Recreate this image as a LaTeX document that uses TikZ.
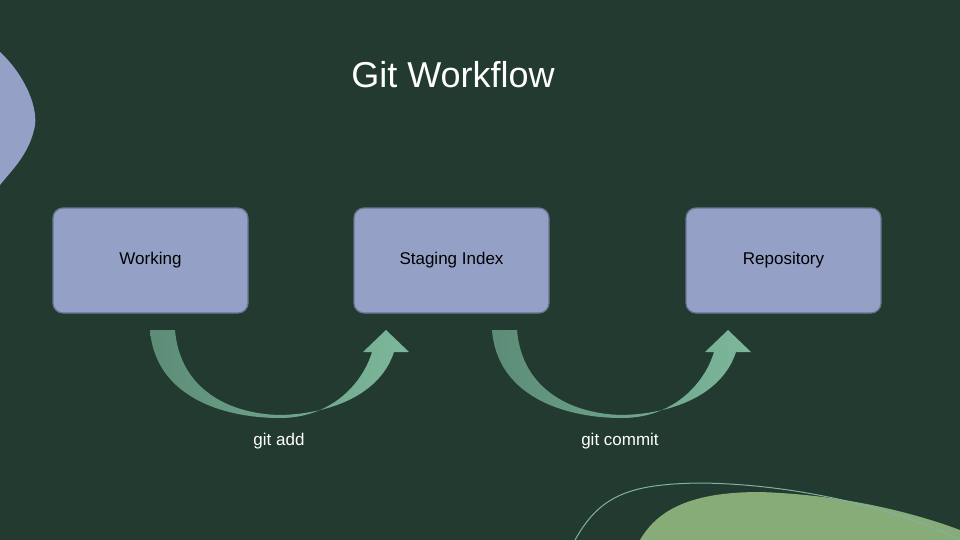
\documentclass[tikz,border=0pt]{standalone}
\usepackage{fontspec}
\setmainfont{Liberation Sans}
\usetikzlibrary{positioning}
\definecolor{bgdark}{HTML}{223A30}
\definecolor{boxfill}{HTML}{94A0C6}
\definecolor{boxline}{HTML}{6B7390}
\definecolor{arrowdark}{HTML}{5C8C76}
\definecolor{arrowlight}{HTML}{7DB89C}
\definecolor{leafgreen}{HTML}{88AC78}
\definecolor{lineteal}{HTML}{7FB3A0}
\tikzset{
  stage/.style={draw=boxline,line width=1.2pt,fill=boxfill,rounded corners=10pt,
    minimum width=195pt,minimum height=105pt,inner sep=0pt,font=\fontsize{17}{20}\selectfont},
  cmd/.style={font=\fontsize{17}{20}\selectfont,text=white},
  bend arrow/.style={left color=arrowdark,right color=arrowlight,draw=none}
}
\newcommand\bendarrow[1]{
  \begin{scope}[xshift=#1]
  \path[bend arrow] (150,330) .. controls (155,395) and (220,418) .. (280,418)
    .. controls (330,418) and (362,385) .. (372,352) -- (363,352) -- (386,330)
    -- (409,352) -- (394,352) .. controls (380,395) and (330,414) .. (280,415)
    .. controls (230,414) and (180,390) .. (175,330) -- cycle;
  \end{scope}
}
\begin{document}
\begin{tikzpicture}[x=1pt,y=-1pt]
  \fill[bgdark] (0,0) rectangle (960,540);
  \useasboundingbox (0,0) rectangle (960,540);
  % decorations
  \fill[boxfill] (0,52) .. controls (25,75) and (40,110) .. (34,130)
    .. controls (28,155) and (12,170) .. (0,185) -- cycle;
  \fill[leafgreen] (640,540) .. controls (660,505) and (700,492) .. (760,492)
    .. controls (850,495) and (920,515) .. (960,530) -- (960,540) -- cycle;
  \draw[lineteal,line width=1pt] (575,540) .. controls (600,495) and (630,484) .. (700,483)
    .. controls (800,484) and (900,510) .. (960,540);
  \node[text=white,font=\fontsize{36}{40}\selectfont] (title) at (453,75) {Git Workflow};
  \node[stage] (working) at (150.5,260.5) {Working};
  \node[stage] (staging) at (451.5,260.5) {Staging Index};
  \node[stage] (repo) at (783.5,260.5) {Repository};
  \bendarrow{0}
  \bendarrow{342}
  \node[cmd] (add) at (279,441) {git add};
  \node[cmd] (commit) at (620,441) {git commit};
\end{tikzpicture}
\end{document}
